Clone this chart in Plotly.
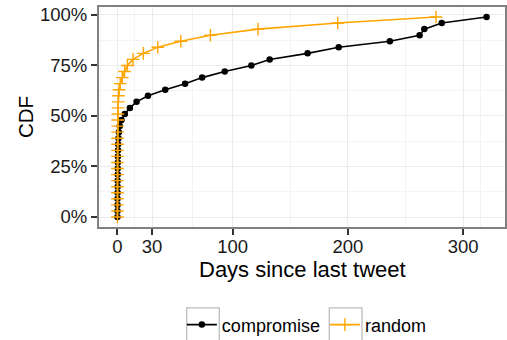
import plotly.graph_objects as go

# CDF levels (shared by both series)
cdf = [0.00, 0.03, 0.06, 0.09, 0.12, 0.15, 0.18, 0.21, 0.24, 0.27, 0.30, 0.33,
       0.36, 0.39, 0.42, 0.45, 0.48, 0.51, 0.54, 0.57, 0.60, 0.63, 0.66, 0.69,
       0.72, 0.75, 0.78, 0.81, 0.84, 0.87, 0.90, 0.93, 0.96, 0.99]

compromise_days = [0.0, 0.05, 0.1, 0.1, 0.15, 0.2, 0.2, 0.25, 0.3, 0.35, 0.4, 0.5,
                   0.6, 0.9, 1.3, 2.0, 3.5, 6.4, 10.8, 16.6, 26.5, 41.5, 58.7, 73.5,
                   93.1, 116.2, 132.1, 165.0, 192.0, 236.4, 262.2, 266.3, 281.4, 320.3]

random_days = [0.0, 0.0, 0.0, 0.0, 0.0, 0.0, 0.0, 0.0, 0.0, 0.0, 0.0, 0.05,
               0.1, 0.1, 0.15, 0.2, 0.3, 0.4, 0.5, 0.7, 0.9, 1.4, 2.4, 4.2,
               6.2, 8.7, 13.5, 22.5, 35.0, 55.0, 80.7, 122.0, 191.1, 276.5]

x_ticks = [0, 30, 100, 200, 300]
y_ticks = [0, 0.25, 0.5, 0.75, 1.0]
y_labels = ["0%", "25%", "50%", "75%", "100%"]

FONT = "Liberation Sans, Arial, Helvetica, sans-serif"

fig = go.Figure()
fig.add_trace(go.Scatter(
    x=compromise_days, y=cdf, name="compromise", mode="lines+markers",
    line=dict(color="#000000", width=1.6),
    marker=dict(symbol="circle", size=6.5, color="#000000"),
))
fig.add_trace(go.Scatter(
    x=random_days, y=cdf, name="random", mode="lines+markers",
    line=dict(color="#FFA500", width=1.6),
    marker=dict(symbol="cross-thin", size=9, color="#FFA500",
                line=dict(color="#FFA500", width=1.4)),
))

# legend key boxes (ggplot-style), in plot-area paper coordinates
for x0, x1 in [(0.216, 0.2963), (0.5672, 0.6478)]:
    fig.add_shape(type="rect", xref="paper", yref="paper",
                  x0=x0, x1=x1, y0=-0.518, y1=-0.368,
                  line=dict(color="#BDBDBD", width=1.3), fillcolor="white",
                  layer="below")

# axis titles as annotations for precise placement
fig.add_annotation(text="Days since last tweet", xref="paper", yref="paper",
                   x=0.5, y=-0.191, xanchor="center", yanchor="middle",
                   showarrow=False, font=dict(size=22, family=FONT, color="#000000"))
fig.add_annotation(text="CDF", xref="paper", yref="paper",
                   x=-0.182, y=0.5, xanchor="center", yanchor="middle", textangle=-90,
                   showarrow=False, font=dict(size=20.5, family=FONT, color="#000000"))

fig.update_layout(
    width=507, height=340,
    margin=dict(l=99, r=2, t=7, b=113, autoexpand=False),
    paper_bgcolor="white", plot_bgcolor="white",
    font=dict(family=FONT, color="#000000"),
    showlegend=True,
    legend=dict(orientation="h", x=0.512, xanchor="center", y=-0.445, yanchor="middle",
                font=dict(size=18, family=FONT, color="#000000"),
                itemwidth=30, tracegroupgap=0, bgcolor="rgba(0,0,0,0)"),
)

fig.update_xaxes(
    range=[-16.0, 336.3], tickvals=x_ticks, ticktext=[str(v) for v in x_ticks],
    automargin=False,
    showgrid=True, gridcolor="#EBEBEB", gridwidth=1.2, zeroline=False,
    minor=dict(tickvals=[-15, 15, 65, 150, 250, 315], showgrid=True,
               gridcolor="#F4F4F4", gridwidth=0.8, ticks=""),
    showline=True, mirror=True, linecolor="#808080", linewidth=2,
    ticks="outside", ticklen=6, tickwidth=1.6, tickcolor="#333333",
    ticklabelstandoff=-4,
    tickfont=dict(size=18.5, family=FONT, color="#1a1a1a"),
)
fig.update_yaxes(
    range=[-0.0495, 1.0395], tickvals=y_ticks, ticktext=y_labels,
    automargin=False,
    showgrid=True, gridcolor="#EBEBEB", gridwidth=1.2, zeroline=False,
    minor=dict(tickvals=[0.125, 0.375, 0.625, 0.875], showgrid=True,
               gridcolor="#F4F4F4", gridwidth=0.8, ticks=""),
    showline=True, mirror=True, linecolor="#808080", linewidth=2,
    ticks="outside", ticklen=6, tickwidth=1.6, tickcolor="#333333",
    tickfont=dict(size=18.5, family=FONT, color="#1a1a1a"),
)

fig.write_html("out.html", config={"displayModeBar": False},
               post_script="document.body.style.margin='0';document.body.style.padding='0';")
